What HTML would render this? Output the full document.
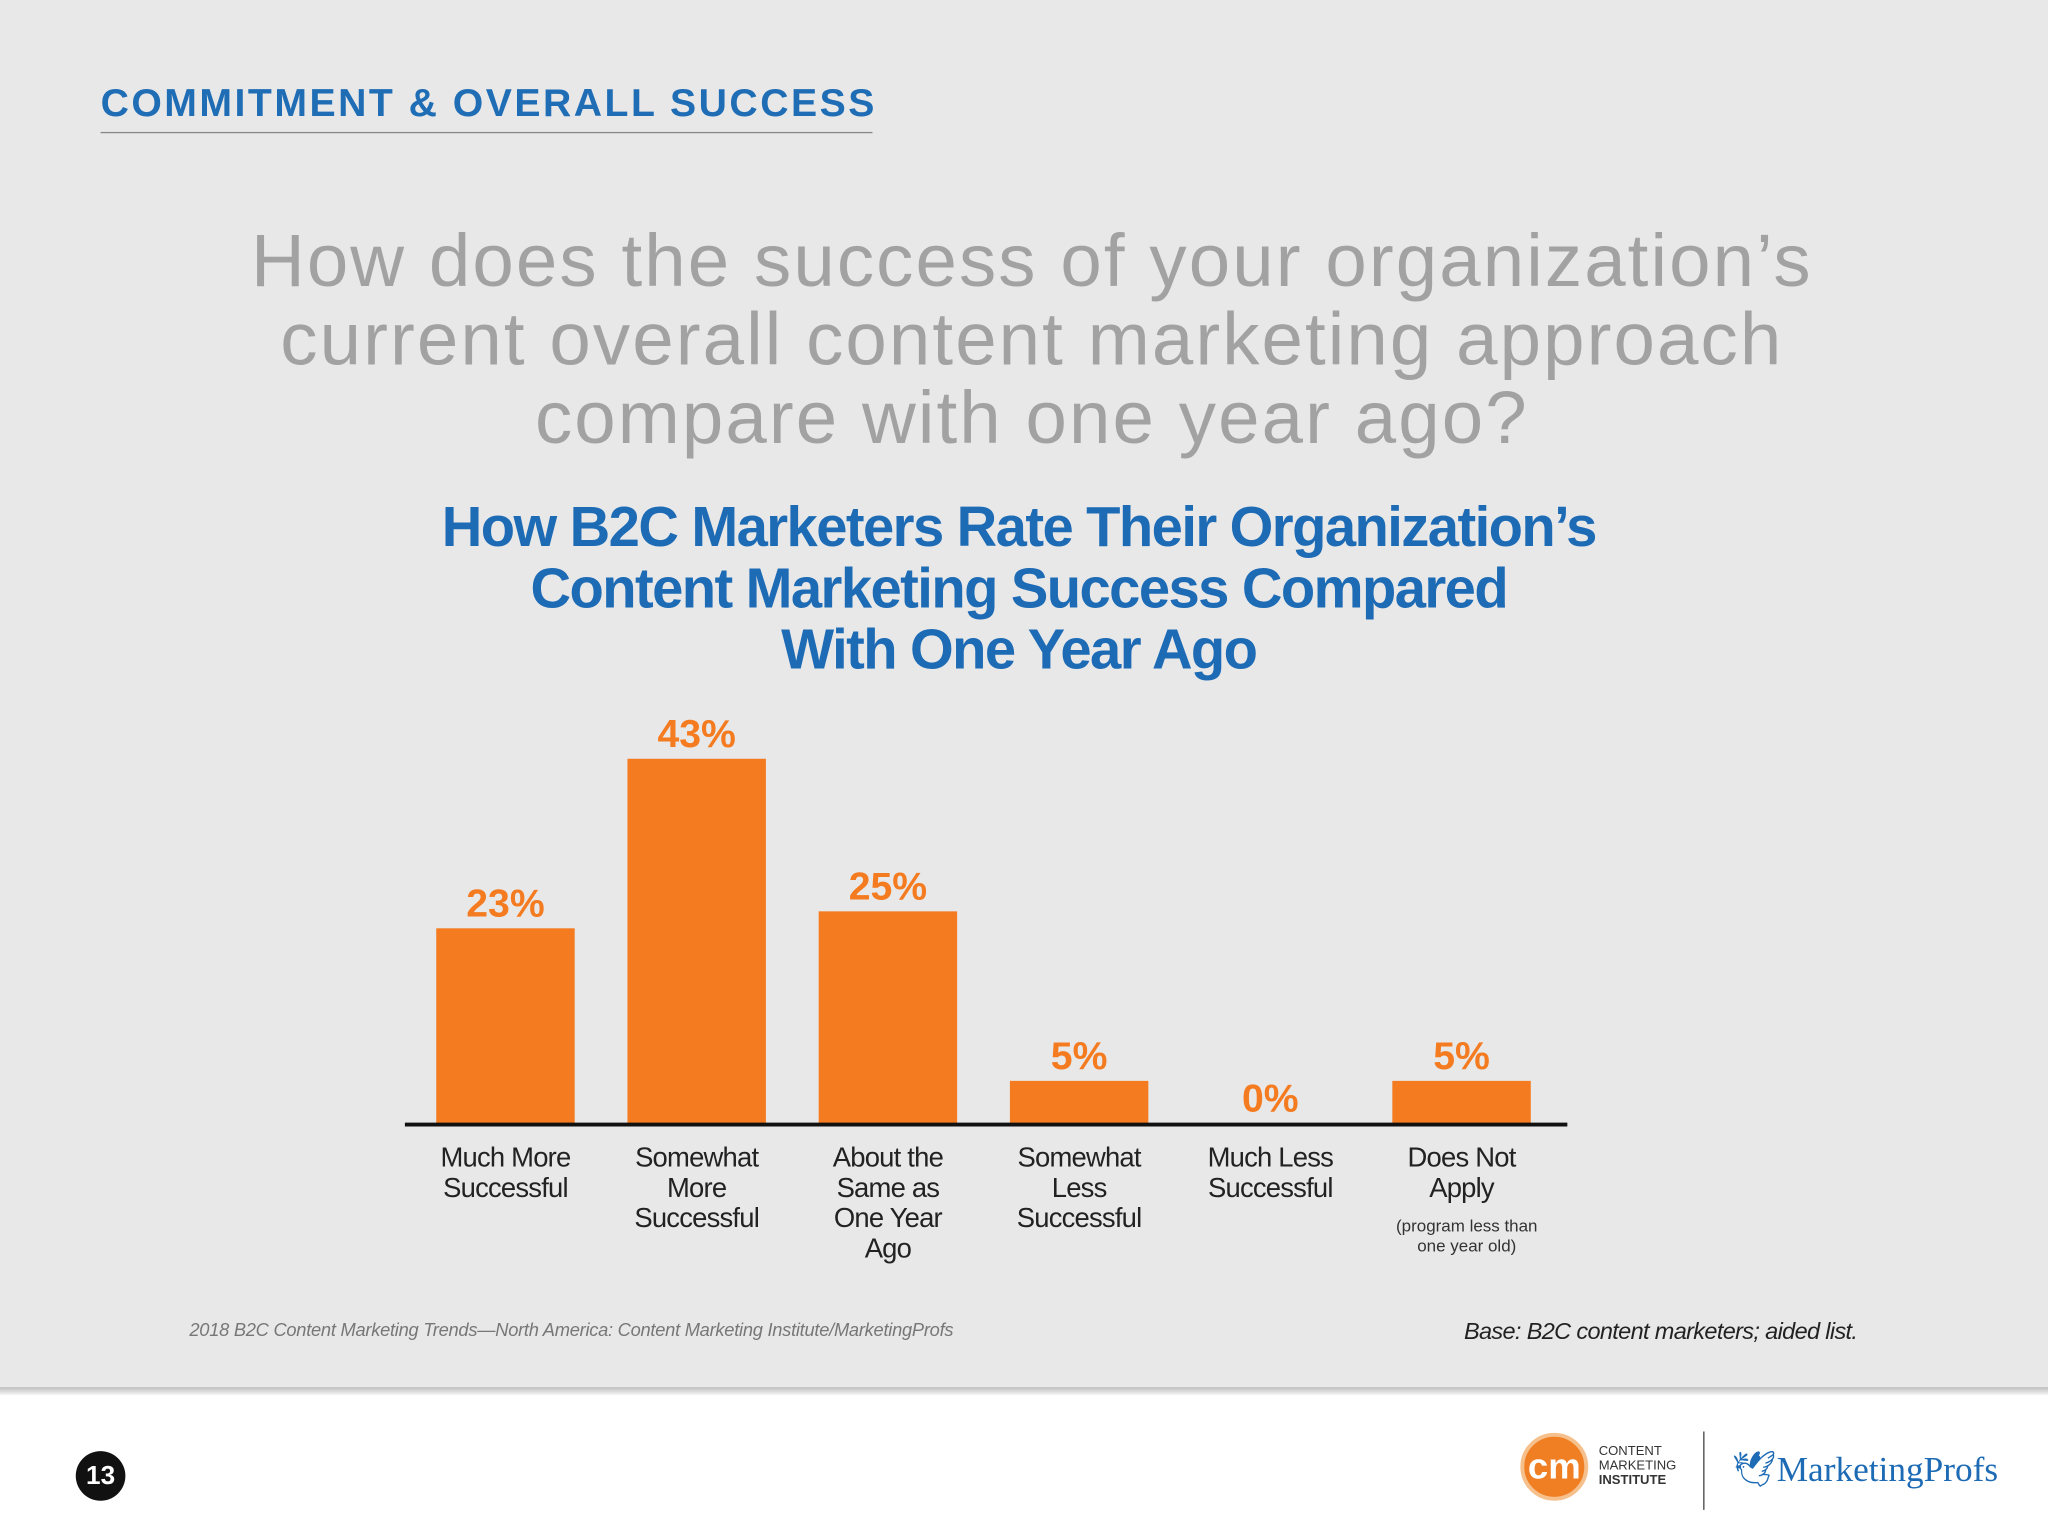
<!DOCTYPE html>
<html><head><meta charset="utf-8"><style>
html,body{margin:0;padding:0;width:2048px;height:1536px;overflow:hidden;background:#fff}
#wrap{position:absolute;left:0;top:0;width:1568px;height:1176px;transform:scale(1.306122);transform-origin:0 0;font-family:"Liberation Sans",sans-serif}
.abs{position:absolute}
</style></head><body>
<div id="wrap">
<div class="abs" style="left:0;top:0;width:1568px;height:1062px;background:#e8e8e9"></div>
<div class="abs" style="left:0;top:1062px;width:1568px;height:6px;background:linear-gradient(#bdbdbd,#f4f4f4)"></div>
<div class="abs" style="left:77px;top:63px;font-size:30px;font-weight:bold;color:#1f6db5;letter-spacing:1.9px">COMMITMENT &amp; OVERALL SUCCESS</div>
<div class="abs" style="left:77px;top:101px;width:591px;height:1px;background:#888"></div>
<div class="abs" style="left:90px;top:170px;width:1400px;text-align:center;font-size:57px;line-height:60px;color:#a2a2a2;letter-spacing:1.6px">How does the success of your organization’s<br>current overall content marketing approach<br>compare with one year ago?</div>
<div class="abs" style="left:180px;top:381px;width:1200px;text-align:center;font-weight:bold;font-size:43px;line-height:47px;color:#1d6bb5;letter-spacing:-1.2px">How B2C Marketers Rate Their Organization’s<br>Content Marketing Success Compared<br>With One Year Ago</div>
<svg class="abs" style="left:0;top:0" width="1568" height="1062" id="chart"></svg>
<div class="abs" style="left:145px;top:1010px;font-size:14px;font-style:italic;color:#777;letter-spacing:-0.2px">2018 B2C Content Marketing Trends—North America: Content Marketing Institute/MarketingProfs</div>
<div class="abs" style="right:146px;top:1009px;font-size:18px;font-style:italic;color:#222;letter-spacing:-0.5px">Base: B2C content marketers; aided list.</div>
<div class="abs" style="left:58px;top:1111px;width:38px;height:38px;border-radius:50%;background:#111;color:#fff;font-weight:bold;font-size:20px;line-height:38px;text-align:center">13</div>
<div class="abs" style="left:1164px;top:1097px;width:52px;height:52px;border-radius:50%;background:#f07e22;border:3px solid #f6c08c;box-sizing:border-box;color:#fff;font-weight:bold;font-size:28px;line-height:46px;text-align:center">cm</div>
<div class="abs" style="left:1224px;top:1106px;font-size:10px;line-height:11px;color:#333">CONTENT<br>MARKETING<br><b>INSTITUTE</b></div>
<div class="abs" style="left:1304px;top:1096px;width:1px;height:60px;background:#444"></div>
<div class="abs" style="left:1326px;top:1109px;font-family:'Liberation Serif',serif;font-size:27px;color:#1d6bb5">🕊MarketingProfs</div>
</div>
<script>
const categories=[["Much More","Successful"],["Somewhat","More","Successful"],["About the","Same as","One Year","Ago"],["Somewhat","Less","Successful"],["Much Less","Successful"],["Does Not","Apply"]];
const values=[23,43,25,5,0,5];
const valueLabels=["23%","43%","25%","5%","0%","5%"];
const svg=document.getElementById('chart');
const NS="http://www.w3.org/2000/svg";
const baseY=860,pxPer=6.49,x0=387,step=146.4,bw=106;
const y=v=>baseY-v*pxPer;
const xc=i=>x0+i*step;
function mk(t,a){const e=document.createElementNS(NS,t);for(const k in a)e.setAttribute(k,a[k]);svg.appendChild(e);return e;}
values.forEach((v,i)=>{
 const r=mk('rect',{x:xc(i)-bw/2,y:y(v),width:bw,height:v*pxPer,fill:'#f47b20'});
 
 
 const t=mk('text',{x:xc(i),y:y(v)-9,'text-anchor':'middle','font-size':30,'font-weight':'bold',fill:'#f47b20','font-family':'Liberation Sans,sans-serif'});
 t.textContent=valueLabels[i];
 
 
 categories[i].forEach((ln,j)=>{
  const c=mk('text',{x:xc(i),y:893+j*23.3,'text-anchor':'middle','font-size':21,fill:'#222','font-family':'Liberation Sans,sans-serif','letter-spacing':'-0.6'});
  c.textContent=ln;
  
  
 });
});
['(program less than','one year old)'].forEach((ln,j)=>{
 const c=mk('text',{x:xc(5)+4,y:943+j*15,'text-anchor':'middle','font-size':13,fill:'#333','font-family':'Liberation Sans,sans-serif'});
 c.textContent=ln;
 
 
});
const ax=mk('line',{x1:310,x2:1200,y1:baseY+1,y2:baseY+1,stroke:'#111','stroke-width':3});


</script>
</body></html>
